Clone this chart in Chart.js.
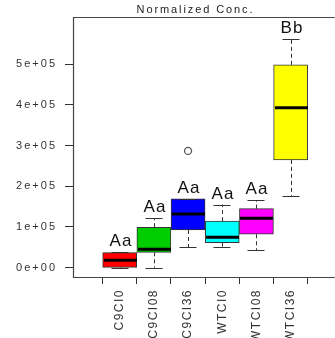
<!DOCTYPE html>
<html>
<head>
<meta charset="utf-8">
<script src="https://cdn.jsdelivr.net/npm/chart.js@4.4.0/dist/chart.umd.min.js"></script>
<style>
html, body { margin: 0; padding: 0; background: #fff; }
#wrap { width: 335px; height: 338px; }
</style>
</head>
<body>
<div id="wrap"><canvas id="chart"></canvas></div>
<script>
const groups = ["C9CI0", "C9CI08", "C9CI36", "WTCI0", "WTCI08", "WTCI36"];
const lowWhisker = [0, 0, 50100, 50100, 43500, 176200];
const q1 = [1000, 37800, 92600, 61400, 82100, 264600];
const median = [18200, 45200, 131900, 74700, 121400, 392400];
const q3 = [36900, 99300, 168800, 114500, 145000, 498000];
const highWhisker = [38600, 121400, 168800, 154800, 166300, 561900];
const outlierGroup = [3];
const outlierValue = [286700];
const letters = ["Aa", "Aa", "Aa", "Aa", "Aa", "Bb"];
const boxColors = ["#ff0000", "#00cd00", "#0000ff", "#00ffff", "#ff00ff", "#ffff00"];
const yTicks = [0, 100000, 200000, 300000, 400000, 500000];

const FONT = "'Liberation Sans', Arial, sans-serif";

// R style scientific label, 1e+05
function sci(v) {
	if (v === 0) return "0e+00";
	const parts = v.toExponential(0).split("e");
	const e = parseInt(parts[1], 10);
	return parts[0] + "e" + (e < 0 ? "-" : "+") + String(Math.abs(e)).padStart(2, "0");
}

const boxParts = {
	id: "boxParts",
	beforeDraw(chart) {
		// x labels are drawn before the datasets, y labels after (ticks.z = 1)
		chart.ctx.letterSpacing = "1.5px";
	},
	afterDatasetsDraw(chart) {
		const ctx = chart.ctx;
		const x = chart.scales.x;
		const y = chart.scales.y;
		const area = chart.chartArea;
		ctx.save();
		for (let i = 0; i < groups.length; i++) {
			const cx = Math.round(x.getPixelForValue(i + 1)) + 0.5;
			// whiskers
			ctx.strokeStyle = "#333";
			ctx.lineWidth = 1;
			ctx.setLineDash([4, 3]);
			ctx.beginPath();
			ctx.moveTo(cx, y.getPixelForValue(q3[i]));
			ctx.lineTo(cx, y.getPixelForValue(highWhisker[i]));
			ctx.moveTo(cx, y.getPixelForValue(q1[i]));
			ctx.lineTo(cx, y.getPixelForValue(lowWhisker[i]));
			ctx.stroke();
			ctx.setLineDash([]);
			ctx.beginPath();
			const hy = Math.round(y.getPixelForValue(highWhisker[i])) + 0.5;
			const ly = Math.round(y.getPixelForValue(lowWhisker[i])) + 0.5;
			ctx.moveTo(cx - 9, hy);
			ctx.lineTo(cx + 8, hy);
			ctx.moveTo(cx - 9, ly);
			ctx.lineTo(cx + 8, ly);
			ctx.stroke();
			// median
			ctx.strokeStyle = "#000";
			ctx.lineWidth = 3;
			ctx.beginPath();
			const my = y.getPixelForValue(median[i]);
			ctx.moveTo(cx - 16.5, my);
			ctx.lineTo(cx + 16.5, my);
			ctx.stroke();
			// letters
			ctx.letterSpacing = "1px";
			ctx.fillStyle = "#111";
			ctx.font = "17px " + FONT;
			ctx.textAlign = "center";
			ctx.textBaseline = "alphabetic";
			const top = Math.max(highWhisker[i], q3[i]);
			ctx.fillText(letters[i], cx + 0.5, y.getPixelForValue(top) - 6);
		}
		// frame
		ctx.strokeStyle = "#444";
		ctx.lineWidth = 1.2;
		ctx.beginPath();
		ctx.moveTo(area.right + 5, area.top + 0.5);
		ctx.lineTo(area.left + 0.5, area.top + 0.5);
		ctx.lineTo(area.left + 0.5, area.bottom + 0.5);
		ctx.lineTo(area.right + 5, area.bottom + 0.5);
		ctx.stroke();
		// title
		ctx.letterSpacing = "1.9px";
		ctx.fillStyle = "#222";
		ctx.font = "11px " + FONT;
		ctx.textAlign = "center";
		const mid = (area.left + x.getPixelForValue(6.74)) / 2;
		ctx.fillText("Normalized Conc.", mid + 1, 13);
		ctx.restore();
		ctx.letterSpacing = "2px";
	}
};

const chart = document.getElementById("chart");

const data = {
	datasets: [
		{
			type: "bar",
			data: groups.map((g, i) => ({ x: i + 1, y: [q1[i], q3[i]] })),
			backgroundColor: boxColors,
			borderColor: "#333",
			borderWidth: 1,
			borderSkipped: false,
			barThickness: 34,
		},
		{
			type: "scatter",
			data: outlierGroup.map((g, i) => ({ x: g, y: outlierValue[i] })),
			pointStyle: "circle",
			pointRadius: 3.5,
			pointBorderWidth: 1.3,
			pointBorderColor: "#555",
			pointBackgroundColor: "#fff",
		},
	],
};

const config = {
	type: "bar",
	data: data,
	options: {
		responsive: true,
		maintainAspectRatio: false,
		animation: false,
		layout: { padding: { top: 17, left: 0, right: 0, bottom: 0 } },
		plugins: {
			legend: { display: false },
			tooltip: { enabled: false },
		},
		scales: {
			x: {
				type: "linear",
				min: 0.26,
				max: 6.517,
				afterBuildTicks: (scale) => {
					scale.ticks = groups.map((g, i) => ({ value: i + 1 }));
				},
				afterFit: (scale) => { scale.height = 61; },
				border: { display: false },
				grid: { drawOnChartArea: false, drawTicks: true, tickLength: 7, color: "#333" },
				ticks: {
					autoSkip: false,
					minRotation: 90,
					maxRotation: 90,
					padding: 5,
					color: "#333",
					font: { family: FONT, size: 12 },
					callback: (v) => groups[v - 1],
				},
			},
			y: {
				min: -22800,
				max: 615400,
				afterBuildTicks: (scale) => {
					scale.ticks = yTicks.map((v) => ({ value: v }));
				},
				afterFit: (scale) => { scale.width = 73; },
				border: { display: false },
				grid: { drawOnChartArea: false, drawTicks: true, tickLength: 8, color: "#333" },
				ticks: {
					z: 1,
					padding: 8,
					color: "#333",
					font: { family: FONT, size: 11 },
					callback: (v) => sci(v),
				},
			},
		},
	},
	plugins: [boxParts],
};

const box_plot = new Chart(chart, config);
</script>
</body>
</html>
